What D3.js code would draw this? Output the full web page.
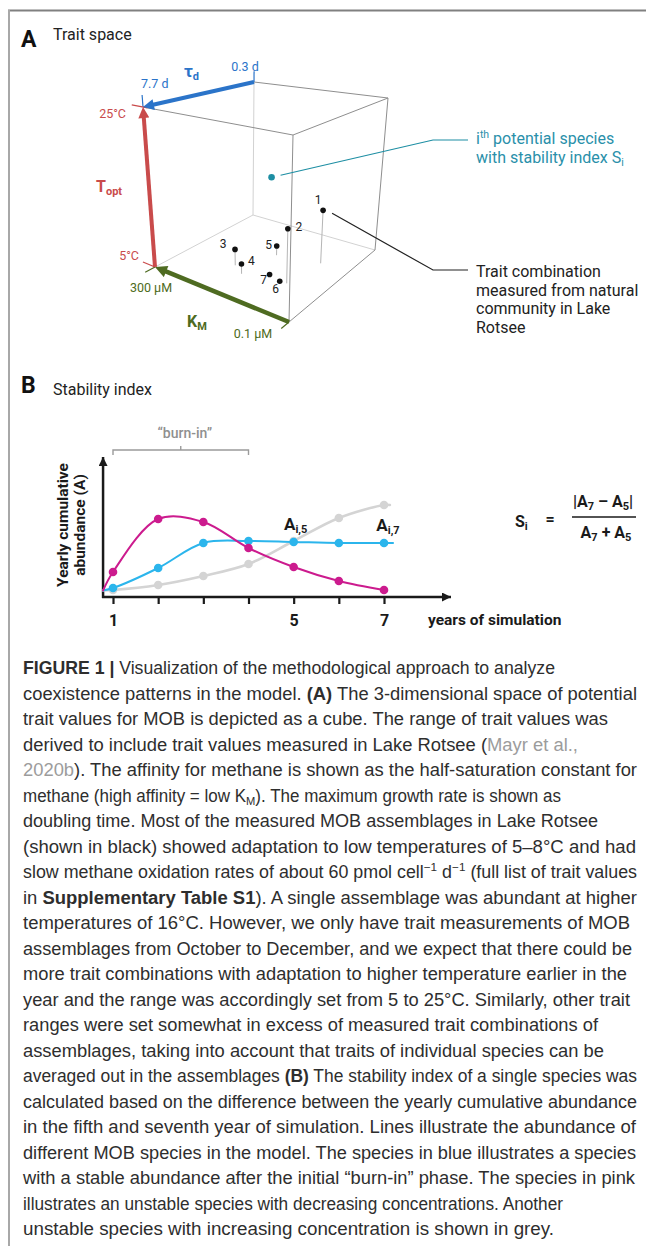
<!DOCTYPE html>
<html>
<head>
<meta charset="utf-8">
<script src="https://d3js.org/d3.v7.min.js"></script>
<style>
body { margin:0; background:#fff; }
svg text { font-family: Roboto, "Noto Sans", sans-serif; }
</style>
</head>
<body>
<svg id="fig" width="646" height="1246"></svg>
<script>
var svg = d3.select("#fig");

/* ---- Panel A data: trait ranges and measured assemblages ---- */
var kmRange   = [300, 0.1];  // half-saturation constant [µM]
var tauRange  = [7.7, 0.3];  // doubling time [d]
var toptRange = [5, 25];     // optimum temperature [°C]

var sampleIds  = ["1","2","3","4","5","6","7"];
var sampleKm   = [66, 78, 195, 166.5, 156, 93, 123];
var sampleTau  = [2.6, 5.0, 5.07, 5.55, 3.11, 5.04, 4.81];
var sampleTopt = [11.7, 11.5, 7.0, 6.2, 6.2, 5.0, 5.0];

var potentialTrait = [144, 4.0, 16]; // i-th potential species (Km, tau, Topt)

/* ---- Panel B data: yearly cumulative abundance ---- */
var years       = [1, 2, 3, 4, 5, 6, 7];
var stableA     = [0.9, 2.9, 5.4, 5.6, 5.5, 5.4, 5.4];   // blue
var decreasingA = [2.5, 7.8, 7.5, 4.9, 3.0, 1.6, 0.7];   // pink
var increasingA = [0.7, 1.2, 2.1, 3.3, 5.6, 7.9, 9.2];   // grey
var startYear = 0.78, startA = 0.65;                     // common origin of the curves
var stableEnd = [7.2, 5.4], increasingEnd = [7.13, 9.2];
var labelledYears = [1, 5, 7];

/* ---- caption text ---- */
var captionLines = [
 [["b","FIGURE 1 | "],["n","Visualization of the methodological approach to analyze"]],
 [["n","coexistence patterns in the model. "],["b","(A)"],["n"," The 3-dimensional space of potential"]],
 [["n","trait values for MOB is depicted as a cube. The range of trait values was"]],
 [["n","derived to include trait values measured in Lake Rotsee ("],["g","Mayr et al.,"]],
 [["g","2020b"],["n","). The affinity for methane is shown as the half-saturation constant for"]],
 [["n","methane (high affinity = low K"],["sub","M"],["n","). The maximum growth rate is shown as"]],
 [["n","doubling time. Most of the measured MOB assemblages in Lake Rotsee"]],
 [["n","(shown in black) showed adaptation to low temperatures of 5–8°C and had"]],
 [["n","slow methane oxidation rates of about 60 pmol cell"],["sup","−1"],["n"," d"],["sup","−1"],["n"," (full list of trait values"]],
 [["n","in "],["b","Supplementary Table S1"],["n","). A single assemblage was abundant at higher"]],
 [["n","temperatures of 16°C. However, we only have trait measurements of MOB"]],
 [["n","assemblages from October to December, and we expect that there could be"]],
 [["n","more trait combinations with adaptation to higher temperature earlier in the"]],
 [["n","year and the range was accordingly set from 5 to 25°C. Similarly, other trait"]],
 [["n","ranges were set somewhat in excess of measured trait combinations of"]],
 [["n","assemblages, taking into account that traits of individual species can be"]],
 [["n","averaged out in the assemblages "],["b","(B)"],["n"," The stability index of a single species was"]],
 [["n","calculated based on the difference between the yearly cumulative abundance"]],
 [["n","in the fifth and seventh year of simulation. Lines illustrate the abundance of"]],
 [["n","different MOB species in the model. The species in blue illustrates a species"]],
 [["n","with a stable abundance after the initial “burn-in” phase. The species in pink"]],
 [["n","illustrates an unstable species with decreasing concentrations. Another"]],
 [["n","unstable species with increasing concentration is shown in grey."]]
];
var captionEnds = [555,637,608,578,637,561,598,636,637,637,630,632,627,630,598,604,637,637,636,636,635,563,554];

/* ---- layout (screen corners of the cube, key = K tau T fractions) ---- */
var cube = {
  "000":[155,267], "100":[289,322], "010":[253,215], "110":[375,250],
  "001":[143,107], "101":[293,135], "011":[254,82],  "111":[388,98]
};
var kScale = d3.scaleLinear().domain(kmRange).range([0,1]);
var tauScale = d3.scaleLinear().domain(tauRange).range([0,1]);
var tScale = d3.scaleLinear().domain(toptRange).range([0,1]);

var blue = "#2b74c9", red = "#c94b4b", green = "#4e6b21", teal = "#1d8ea3";
var pink = "#cc1b8e", sky = "#2bb5ec", grey = "#d4d4d4";

drawFrame();
drawPanelA();
drawPanelB();
drawCaption();

/*Functions*/
function projectUVW(u, v, w){
  var x = 0, y = 0;
  for(var i=0;i<2;i++) for(var j=0;j<2;j++) for(var k=0;k<2;k++){
    var wt = (i?u:1-u)*(j?v:1-v)*(k?w:1-w);
    var c = cube[""+i+j+k];
    x += wt*c[0]; y += wt*c[1];
  }
  return [x, y];
}
function project(km, tau, t){
  return projectUVW(kScale(km), tauScale(tau), tScale(t));
}

function addMarker(defs, id, color, len, wid){
  defs.append("marker").attr("id", id)
    .attr("viewBox","0 0 10 10").attr("refX",10).attr("refY",5)
    .attr("markerUnits","userSpaceOnUse")
    .attr("markerWidth",len).attr("markerHeight",wid)
    .attr("orient","auto")
    .append("path").attr("d","M0,0L10,5L0,10z").attr("fill",color);
}

function arrow(g, p0, p1, color, width, id, headLen){
  var dx = p1[0]-p0[0], dy = p1[1]-p0[1], L = Math.sqrt(dx*dx+dy*dy);
  var cut = headLen*0.7;
  g.append("line")
    .attr("x1",p0[0]).attr("y1",p0[1])
    .attr("x2",p1[0]-dx/L*cut).attr("y2",p1[1]-dy/L*cut)
    .attr("stroke",color).attr("stroke-width",width);
  // invisible carrier for the arrow head
  g.append("line")
    .attr("x1",p1[0]-dx/L*(cut+1)).attr("y1",p1[1]-dy/L*(cut+1))
    .attr("x2",p1[0]).attr("y2",p1[1])
    .attr("stroke","none").attr("marker-end","url(#"+id+")");
}

function drawFrame(){
  svg.append("line").attr("x1",8).attr("y1",10.5).attr("x2",646).attr("y2",10.5)
    .attr("stroke","#808080").attr("stroke-width",2);
  svg.append("line").attr("x1",9).attr("y1",10).attr("x2",9).attr("y2",1246)
    .attr("stroke","#a8a8a8").attr("stroke-width",2);
}

function drawPanelA(){
  var g = svg.append("g");
  var defs = svg.append("defs");
  addMarker(defs, "ahBlue", blue, 13, 11);
  addMarker(defs, "ahRed", red, 13, 11);
  addMarker(defs, "ahGreen", green, 13, 12);

  g.append("text").attr("x",21).attr("y",47).attr("font-size",23).attr("font-weight","bold").attr("fill","#111").text("A");
  g.append("text").attr("x",53).attr("y",40).attr("font-size",16).attr("fill","#222").text("Trait space");

  // cube edges
  var light = [["011","010"],["010","000"],["010","110"]];
  var dark  = [["001","101"],["101","111"],["011","111"],["101","100"],["111","110"],["100","110"]];
  light.forEach(function(e){
    g.append("line").attr("x1",cube[e[0]][0]).attr("y1",cube[e[0]][1])
      .attr("x2",cube[e[1]][0]).attr("y2",cube[e[1]][1])
      .attr("stroke","#d2d2d2").attr("stroke-width",1);
  });
  dark.forEach(function(e){
    g.append("line").attr("x1",cube[e[0]][0]).attr("y1",cube[e[0]][1])
      .attr("x2",cube[e[1]][0]).attr("y2",cube[e[1]][1])
      .attr("stroke","#8e8e8e").attr("stroke-width",1);
  });

  // stems and measured points
  sampleIds.forEach(function(id, i){
    var top = project(sampleKm[i], sampleTau[i], sampleTopt[i]);
    var bot = project(sampleKm[i], sampleTau[i], toptRange[0]);
    if(top[1] < bot[1]-1){
      g.append("line").attr("x1",bot[0]).attr("y1",bot[1]).attr("x2",top[0]).attr("y2",top[1])
        .attr("stroke","#b5b5b5").attr("stroke-width",1);
    }
  });
  var labelOff = [[-5,-6],[11,2],[-12,-1],[10,1],[-8,3],[-4,12],[-6,9]];
  sampleIds.forEach(function(id, i){
    var p = project(sampleKm[i], sampleTau[i], sampleTopt[i]);
    g.append("circle").attr("cx",p[0]).attr("cy",p[1]).attr("r",2.8).attr("fill","#111");
    g.append("text").attr("x",p[0]+labelOff[i][0]).attr("y",p[1]+labelOff[i][1])
      .attr("text-anchor","middle").attr("font-size",12).attr("fill","#222").text(id);
  });

  // potential species
  var ps = project(potentialTrait[0], potentialTrait[1], potentialTrait[2]);
  g.append("circle").attr("cx",ps[0]).attr("cy",ps[1]).attr("r",3.3).attr("fill",teal);
  g.append("polyline").attr("points",[[ps[0]+9,ps[1]-2],[433,140],[468,140]].join(" "))
    .attr("fill","none").attr("stroke",teal).attr("stroke-width",1.2);
  var t1 = g.append("text").attr("x",476).attr("y",144).attr("font-size",16).attr("fill","#2a90aa");
  t1.append("tspan").text("i");
  t1.append("tspan").attr("dy",-6).attr("font-size",10.5).text("th");
  t1.append("tspan").attr("dy",6).text(" potential species");
  var t2 = g.append("text").attr("x",476).attr("y",163).attr("font-size",16).attr("fill","#2a90aa");
  t2.append("tspan").text("with stability index S");
  t2.append("tspan").attr("dy",3).attr("font-size",10.5).text("i");

  // measured leader
  var p1 = project(sampleKm[0], sampleTau[0], sampleTopt[0]);
  g.append("polyline").attr("points",[[p1[0]+9,p1[1]+3],[433,270],[468,270]].join(" "))
    .attr("fill","none").attr("stroke","#222").attr("stroke-width",1.2);
  ["Trait combination","measured from natural","community in Lake","Rotsee"].forEach(function(s,i){
    g.append("text").attr("x",476).attr("y",277+i*18.6).attr("font-size",16).attr("fill","#222").text(s);
  });

  // axis ticks
  var tick = function(a, b, color){
    g.append("line").attr("x1",a[0]).attr("y1",a[1]).attr("x2",b[0]).attr("y2",b[1])
      .attr("stroke",color).attr("stroke-width",1.2);
  };
  tick(projectUVW(0,1,1), projectUVW(0,1,1.08), blue);
  tick(projectUVW(0,0,1), projectUVW(0,0,1.075), blue);
  tick(projectUVW(-0.075,0,1), projectUVW(0.03,0,1), red);
  tick(projectUVW(-0.09,0,0), projectUVW(0,0,0), red);
  tick(projectUVW(0,-0.1,0), projectUVW(0,0,0), green);
  tick(projectUVW(1,-0.09,0), projectUVW(1,0,0), green);

  // trait axes as arrows
  arrow(g, project(kmRange[0], tauRange[1], toptRange[1]), project(kmRange[0], tauRange[0], toptRange[1]), blue, 4, "ahBlue", 13);
  arrow(g, project(kmRange[0], tauRange[0], toptRange[0]), project(kmRange[0], tauRange[0], toptRange[1]), red, 4, "ahRed", 13);
  arrow(g, project(kmRange[1], tauRange[0], toptRange[0]), project(kmRange[0], tauRange[0], toptRange[0]), green, 4.5, "ahGreen", 13);

  // axis labels
  g.append("text").attr("x",245).attr("y",71).attr("text-anchor","middle").attr("font-size",12.5).attr("fill",blue).text(tauRange[1]+" d");
  g.append("text").attr("x",141).attr("y",88).attr("font-size",12.5).attr("fill",blue).text(tauRange[0]+" d");
  var td = g.append("text").attr("x",184).attr("y",77).attr("font-size",17).attr("font-weight","bold").attr("fill",blue);
  td.append("tspan").text("τ");
  td.append("tspan").attr("dy",3).attr("font-size",11).text("d");

  g.append("text").attr("x",126).attr("y",118).attr("text-anchor","end").attr("font-size",12.5).attr("fill",red).text(toptRange[1]+"°C");
  g.append("text").attr("x",139).attr("y",260).attr("text-anchor","end").attr("font-size",12.5).attr("fill",red).text(toptRange[0]+"°C");
  var to = g.append("text").attr("x",96).attr("y",192).attr("font-size",16).attr("font-weight","bold").attr("fill",red);
  to.append("tspan").text("T");
  to.append("tspan").attr("dy",3).attr("font-size",11).text("opt");

  g.append("text").attr("x",151).attr("y",292).attr("text-anchor","middle").attr("font-size",12.5).attr("fill",green).text(kmRange[0]+" µM");
  g.append("text").attr("x",253).attr("y",338).attr("text-anchor","middle").attr("font-size",12.5).attr("fill",green).text(kmRange[1]+" µM");
  var km = g.append("text").attr("x",187).attr("y",327).attr("font-size",16).attr("font-weight","bold").attr("fill",green);
  km.append("tspan").text("K");
  km.append("tspan").attr("dy",3).attr("font-size",11).text("M");
}

function drawPanelB(){
  var g = svg.append("g");
  var defs = svg.select("defs");
  addMarker(defs, "ahAxis", "#1a1a1a", 10, 9);

  g.append("text").attr("x",21).attr("y",393).attr("font-size",23).attr("font-weight","bold").attr("fill","#111").text("B");
  g.append("text").attr("x",53).attr("y",395).attr("font-size",16).attr("fill","#222").text("Stability index");

  var x = d3.scaleLinear().domain([1,7]).range([113,384]);
  var y = d3.scaleLinear().domain([0,10]).range([597,497]);

  // burn-in bracket over years 1..4
  var by = 450;
  g.append("path")
    .attr("d","M"+x(1)+","+(by+5)+"V"+by+"H"+x(4)+"V"+(by+5)+"M"+((x(1)+x(4))/2)+","+by+"v-4")
    .attr("fill","none").attr("stroke","#9b9b9b").attr("stroke-width",1.4);
  g.append("text").attr("x",(x(1)+x(4))/2+4).attr("y",438).attr("text-anchor","middle")
    .attr("font-size",14).attr("font-weight",500).attr("fill","#8f8f8f").text("“burn-in”");

  // axes
  var xaxis = g.append("g").attr("transform","translate(0,597)")
    .call(d3.axisBottom(x).tickValues(years).tickSizeInner(7).tickSizeOuter(0).tickPadding(11)
      .tickFormat(function(d){ return labelledYears.indexOf(d)>=0 ? d : ""; }));
  xaxis.select(".domain").remove();
  xaxis.selectAll(".tick line").attr("stroke","#1a1a1a").attr("stroke-width",2.2);
  xaxis.selectAll(".tick text").attr("font-size",16).attr("font-weight","bold").attr("fill","#1a1a1a")
    .attr("font-family","Roboto, sans-serif");

  g.append("line").attr("x1",x(startYear)-1).attr("y1",y(0)).attr("x2",x.range()[1]+67).attr("y2",y(0))
    .attr("stroke","#1a1a1a").attr("stroke-width",2.5).attr("marker-end","url(#ahAxis)");
  g.append("line").attr("x1",x(startYear)).attr("y1",y(0)+1).attr("x2",x(startYear)).attr("y2",y(0)-140)
    .attr("stroke","#1a1a1a").attr("stroke-width",2.5).attr("marker-end","url(#ahAxis)");

  g.append("text").attr("x",428).attr("y",625).attr("font-size",15.5).attr("font-weight","bold").attr("fill","#1a1a1a").text("years of simulation");

  var yl = g.append("text").attr("transform","translate(68,525) rotate(-90)").attr("text-anchor","middle")
    .attr("font-size",15.5).attr("font-weight","bold").attr("fill","#1a1a1a");
  yl.append("tspan").attr("x",0).attr("y",0).text("Yearly cumulative");
  yl.append("tspan").attr("x",0).attr("y",17).text("abundance (A)");

  var line = d3.line().curve(d3.curveCatmullRom.alpha(0.5))
    .x(function(d){ return x(d[0]); }).y(function(d){ return y(d[1]); });

  var series = [
    {vals: increasingA, color: grey, w: 2.6, end: increasingEnd},
    {vals: stableA, color: sky, w: 2, end: stableEnd},
    {vals: decreasingA, color: pink, w: 2, end: null}
  ];
  series.forEach(function(s){
    var pts = [[startYear, startA]].concat(years.map(function(yr,i){ return [yr, s.vals[i]]; }));
    if(s.end) pts.push(s.end);
    g.append("path").datum(pts).attr("fill","none").attr("stroke",s.color)
      .attr("stroke-width",s.w).attr("stroke-linecap","round").attr("d",line);
    g.selectAll(null).data(years).enter().append("circle")
      .attr("cx",function(d){ return x(d); })
      .attr("cy",function(d,i){ return y(s.vals[i]); })
      .attr("r",4.3).attr("fill",s.color);
  });

  // A labels
  [[5,2],[7,4]].forEach(function(a){
    var t = g.append("text").attr("x",x(a[0])+a[1]).attr("y",y(stableA[a[0]-1])-12).attr("text-anchor","middle")
      .attr("font-weight","bold").attr("fill","#1a1a1a");
    t.append("tspan").attr("font-size",17).text("A");
    t.append("tspan").attr("font-size",11).attr("dy",3).text("i,"+a[0]);
  });

  // stability index formula
  var s = g.append("text").attr("x",515).attr("y",527).attr("font-weight","bold").attr("fill","#1a1a1a");
  s.append("tspan").attr("font-size",16).text("S");
  s.append("tspan").attr("font-size",11).attr("dy",3).text("i");
  g.append("text").attr("x",550).attr("y",525).attr("text-anchor","middle").attr("font-size",16).attr("font-weight","bold").attr("fill","#1a1a1a").text("=");
  var num = g.append("text").attr("x",603).attr("y",507).attr("text-anchor","middle").attr("font-weight","bold").attr("fill","#1a1a1a").attr("font-size",16);
  num.append("tspan").text("|A");
  num.append("tspan").attr("font-size",11).attr("dy",3).text("7");
  num.append("tspan").attr("dy",-3).text(" – A");
  num.append("tspan").attr("font-size",11).attr("dy",3).text("5");
  num.append("tspan").attr("dy",-3).text("|");
  g.append("line").attr("x1",572).attr("y1",517).attr("x2",636).attr("y2",517).attr("stroke","#1a1a1a").attr("stroke-width",1.3);
  var den = g.append("text").attr("x",606).attr("y",538).attr("text-anchor","middle").attr("font-weight","bold").attr("fill","#1a1a1a").attr("font-size",16);
  den.append("tspan").text("A");
  den.append("tspan").attr("font-size",11).attr("dy",3).text("7");
  den.append("tspan").attr("dy",-3).text(" + A");
  den.append("tspan").attr("font-size",11).attr("dy",3).text("5");
}

function drawCaption(){
  var capX = 23, capY0 = 674, capDY = 25.5;
  var g = svg.append("g");
  captionLines.forEach(function(line, i){
    var t = g.append("text").attr("x",capX).attr("y",capY0+i*capDY)
      .attr("font-size",17.5).attr("fill","#2e2e2e")
      .style("font-family","'Liberation Sans', Arial, sans-serif")
      .attr("textLength",captionEnds[i]-capX).attr("lengthAdjust","spacingAndGlyphs");
    var shift = 0;
    line.forEach(function(seg){
      var sp = t.append("tspan").text(seg[1]);
      var target = seg[0]=="sup" ? -7 : seg[0]=="sub" ? 3 : 0;
      if(target != shift){ sp.attr("dy", target-shift); shift = target; }
      if(seg[0]=="b") sp.attr("font-weight","bold");
      if(seg[0]=="g") sp.attr("fill","#9c9c9c");
      if(seg[0]=="sup" || seg[0]=="sub") sp.attr("font-size",11.5);
    });
  });
}
</script>
</body>
</html>
